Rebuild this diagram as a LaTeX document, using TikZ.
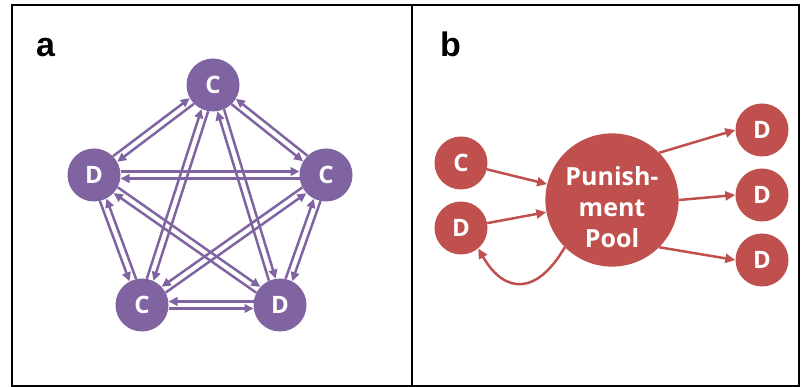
\documentclass[tikz,border=0pt]{standalone}
\usepackage{fontspec}
\setmainfont{Open Sans}
\newfontfamily\panelfont{Liberation Sans}
\usetikzlibrary{arrows.meta,calc,positioning}
\definecolor{lavender}{HTML}{8064A2}
\definecolor{brick}{HTML}{C0504D}
\newcommand{\twoway}[3]{%
  \draw[pairline] ($(#1)!#3!90:(#2)$) -- ($(#2)!#3!-90:(#1)$);
  \draw[pairline] ($(#2)!#3!90:(#1)$) -- ($(#1)!#3!-90:(#2)$);}

\begin{document}
\begin{tikzpicture}[x=1pt,y=-1pt,
  agent/.style={circle,minimum size=53pt,inner sep=0pt,text=white,
    font=\bfseries\fontsize{24}{24}\selectfont},
  panel/.style={anchor=base west,inner sep=0pt,font=\panelfont\bfseries\fontsize{34}{34}\selectfont},
  pairline/.style={lavender,line width=2.5pt,shorten <=26.5pt,shorten >=26.5pt,
    -{Triangle[length=9pt,width=8.5pt]}},
  redline/.style={brick,line width=2.5pt,-{Triangle[length=10pt,width=9pt]}}]
\useasboundingbox (0,0) rectangle (801,387);
\draw[line width=2pt] (12,5) rectangle (799,386);
\draw[line width=2pt] (412,5) -- (412,386);
\node[panel] (la) at (36,57) {a};
\node[panel] (lb) at (440,57) {b};

\node[agent,fill=lavender] (topC) at (213,85) {C};
\node[agent,fill=lavender] (lftD) at (94,175) {D};
\node[agent,fill=lavender] (rgtC) at (326,175) {C};
\node[agent,fill=lavender] (botC) at (142,305) {C};
\node[agent,fill=lavender] (botD) at (280,305) {D};
\twoway{lftD}{topC}{3.5pt}
\twoway{topC}{rgtC}{-3.5pt}
\twoway{lftD}{rgtC}{3.5pt}
\twoway{botC}{botD}{-3.5pt}
\twoway{lftD}{botC}{-3.5pt}
\twoway{rgtC}{botD}{3.5pt}
\twoway{topC}{botC}{3.5pt}
\twoway{topC}{botD}{3.5pt}
\twoway{lftD}{botD}{3.5pt}
\twoway{rgtC}{botC}{-3.5pt}

\node[agent,fill=brick] (inC) at (461,163) {C};
\node[agent,fill=brick] (inD) at (461,228) {D};
\node[agent,fill=brick,minimum size=130pt,align=center,
  font=\bfseries\fontsize{25}{31}\selectfont] (pool) at (612,200) {\rule{0pt}{33pt}Punish-\\ment\\Pool};
\node[agent,fill=brick] (outA) at (762,130) {D};
\node[agent,fill=brick] (outB) at (762,195) {D};
\node[agent,fill=brick] (outC) at (762,260) {D};
\draw[redline] (inC) -- (pool);
\draw[redline] (inD) -- (pool);
\draw[redline] (pool.45) -- (outA.west);
\draw[redline] (pool.east) -- (outB.west);
\draw[redline] (pool.-45) -- (outC.west);
\draw[redline] (pool.225) to[out=-120,in=-60,looseness=1.6] (inD.-50);
\end{tikzpicture}
\end{document}
